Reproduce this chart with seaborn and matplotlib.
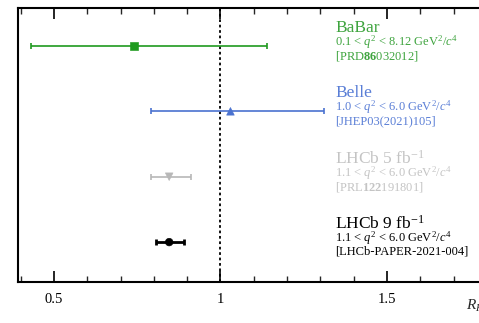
import numpy as np
import pandas as pd
import matplotlib
matplotlib.use("Agg")
import matplotlib.pyplot as plt
import seaborn as sns
from matplotlib.ticker import MultipleLocator, FixedLocator

sns.set_theme(style="ticks")
plt.rcParams['font.family'] = ['Liberation Serif', 'DejaVu Serif']
plt.rcParams['mathtext.fontset'] = 'custom'
plt.rcParams['mathtext.rm'] = 'Liberation Serif'
plt.rcParams['mathtext.it'] = 'Liberation Serif:italic'
plt.rcParams['mathtext.bf'] = 'Liberation Serif:bold'

experiments = ["BaBar", "Belle", "LHCb 5 fb$^{-1}$", "LHCb 9 fb$^{-1}$"]
ranges = [r"0.1 < $q^2$ < 8.12 GeV$^2$/$c^4$",
          r"1.0 < $q^2$ < 6.0 GeV$^2$/$c^4$",
          r"1.1 < $q^2$ < 6.0 GeV$^2$/$c^4$",
          r"1.1 < $q^2$ < 6.0 GeV$^2$/$c^4$"]
refs = [r"[PRD$\mathbf{86}$032012]", "[JHEP03(2021)105]",
        r"[PRL$\mathbf{122}$191801]", "[LHCb-PAPER-2021-004]"]
rk = [0.74, 1.03, 0.846, 0.846]
err_lo = [0.31, 0.24, 0.054, 0.041]
err_hi = [0.40, 0.28, 0.066, 0.044]
ypos = [3, 2, 1, 0]
colors = ["#1f9a1f", "#4a72d0", "#b8b8b8", "#000000"]
text_colors = ["#3fa43f", "#5a7ed6", "#c4c4c4", "#000000"]
markers = ["s", "^", "v", "o"]
lw = [1.2, 1.2, 1.2, 2.0]

df = pd.DataFrame({"exp": experiments, "rk": rk, "y": ypos})

fig = plt.figure(figsize=(4.79, 3.23), dpi=100)
# axes extends past the right edge (reference is a crop)
x0 = 18 / 479
px_per_unit = 333 / 479
xmin, xmax = 0.392, 2.0
ax = fig.add_axes([x0, 1 - 282 / 323, (xmax - xmin) * px_per_unit, 274 / 323])

for i in range(4):
    ax.errorbar(rk[i], ypos[i], xerr=[[err_lo[i]], [err_hi[i]]], fmt="none",
                ecolor=colors[i], elinewidth=lw[i], capsize=2.5, capthick=lw[i], zorder=2)
sns.scatterplot(data=df, x="rk", y="y", hue="exp", style="exp",
                palette=dict(zip(experiments, colors)),
                markers=dict(zip(experiments, markers)),
                s=30, edgecolor=None, legend=False, ax=ax, zorder=3)

ax.axvline(1.0, color="black", linestyle=(0, (1.5, 1.5)), linewidth=1.3, zorder=1)

ax.set_xlim(xmin, xmax)
ax.set_ylim(-0.61, 3.58)
ax.set_xlabel("")
ax.set_ylabel("")
ax.set_yticks([])
ax.xaxis.set_major_locator(FixedLocator([0.5, 1.0, 1.5]))
ax.set_xticklabels(["0.5", "1", "1.5"], fontsize=10.5)
ax.xaxis.set_minor_locator(MultipleLocator(0.1))
ax.tick_params(axis="x", which="major", direction="in", length=8, width=1.2,
               top=True, bottom=True, pad=8, colors="black")
ax.tick_params(axis="x", which="minor", direction="in", length=4, width=1.0,
               top=True, bottom=True)
for s in ax.spines.values():
    s.set_linewidth(1.5)
    s.set_color("black")

xt = 1.345
for i in range(4):
    yc = ypos[i]
    ax.text(xt, yc + 0.275, experiments[i], color=text_colors[i], fontsize=12.5,
            va="center", ha="left")
    ax.text(xt, yc + 0.06, ranges[i], color=text_colors[i], fontsize=9,
            va="center", ha="left")
    ax.text(xt, yc - 0.15, refs[i], color=text_colors[i], fontsize=9,
            va="center", ha="left")

fig.text(466 / 479, 1 - 306 / 323, "$R_K$", fontsize=11, ha="left", va="center")

fig.savefig("out.png", dpi=100)
